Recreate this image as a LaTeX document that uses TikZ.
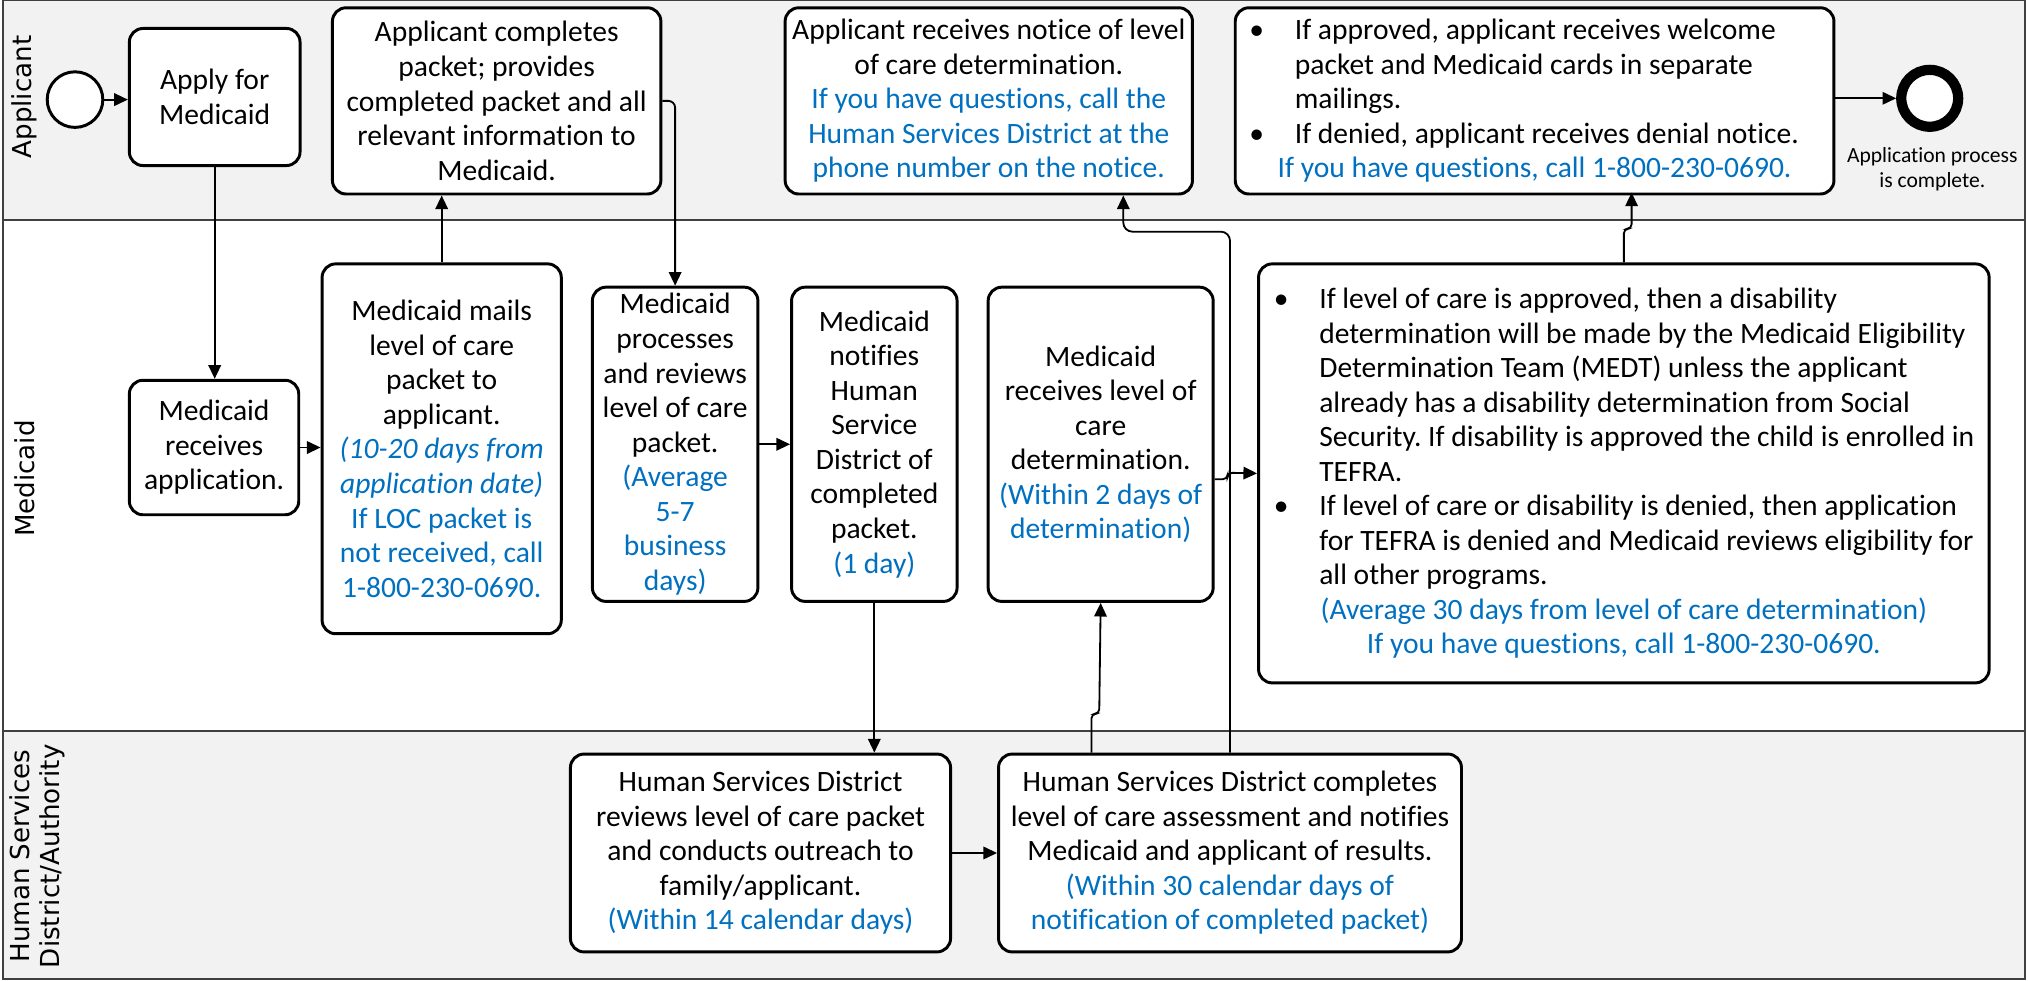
\documentclass[tikz,border=0pt]{standalone}
\usepackage{fontspec}
\setmainfont{Carlito}[Ligatures=NoCommon]
\newfontfamily\lanefont{DejaVu Sans}
\usepackage{xcolor}
\usetikzlibrary{arrows.meta,calc}
\definecolor{hsblue}{HTML}{0070C0}
\newcommand{\blu}[1]{\textcolor{hsblue}{#1}}
\newcommand{\bpt}[2][308pt]{\makebox[#1][l]{\makebox[20pt][l]{\textbullet}#2}}
\newcommand{\bpc}[2][308pt]{\makebox[#1][l]{\hspace*{20pt}#2}}
\frenchspacing

\begin{document}
\begin{tikzpicture}[x=0.02cm,y=-0.02cm,
 task/.style={draw,line width=1.3pt,rounded corners=6pt,fill=white,align=center,inner sep=1pt,font=\fontsize{13}{15.2}\selectfont},
 flow/.style={line width=0.8pt,-{Triangle[length=6pt,width=5.5pt]}},
 lane/.style={line width=0.9pt,draw=black!75},
 lanetext/.style={rotate=90,align=center,font=\lanefont\fontsize{11.5}{13}\selectfont}]
\useasboundingbox (0,0) rectangle (1568,758);
% lanes
\fill[black!5] (2,0) rectangle (1566,170);
\fill[black!5] (2,565) rectangle (1566,757);
\draw[lane] (2,0) rectangle (1566,757);
\draw[lane] (2,170) -- (1566,170);
\draw[lane] (2,565) -- (1566,565);
\node[lanetext] (lapp) at (19,75) {Applicant};
\node[lanetext] (lmed) at (19,370) {Medicaid};
\node[lanetext] (lhsd) at (29,662) {Human Services\\District/Authority};

% applicant
\node[draw,circle,line width=1.3pt,fill=white,minimum size=0.86cm] (start) at (58,77) {};
\node[task,minimum width=2.64cm,minimum height=2.12cm] (apply) at (166,75) {Apply for\\Medicaid};
\node[task,minimum width=5.08cm,minimum height=2.88cm] (acp) at (384,78)
 {Applicant completes\\packet; provides\\completed packet and all\\relevant information to\\Medicaid.};
\node[task,minimum width=6.3cm,minimum height=2.88cm] (notice) at (764.5,78)
 {Applicant receives notice of level\\of care determination.\\\blu{If you have questions, call the}\\\blu{Human Services District at the}\\\blu{phone number on the notice.}};
\node[task,minimum width=9.26cm,minimum height=2.88cm] (appb) at (1186.5,78)
 {\bpt[251pt]{If approved, applicant receives welcome}\\\bpc[251pt]{packet and Medicaid cards in separate}\\\bpc[251pt]{mailings.}\\\bpt[251pt]{If denied, applicant receives denial notice.}\\\blu{If you have questions, call 1-800-230-0690.}};
\node[draw,circle,line width=4.5pt,fill=white,minimum size=0.88cm] (finish) at (1492,76) {};
\node[align=center,font=\fontsize{9.5}{11}\selectfont] (donelbl) at (1494,131) {Application process\\is complete.};

% medicaid
\node[task,minimum width=2.62cm,minimum height=2.08cm] (recv) at (165.5,346) {Medicaid\\receives\\application.};
\node[task,minimum width=3.7cm,minimum height=5.72cm] (mails) at (341.5,347)
 {Medicaid mails\\level of care\\packet to\\applicant.\\\blu{\itshape(10-20 days from}\\\blu{\itshape application date)}\\\blu{If LOC packet is}\\\blu{not received, call}\\\blu{1-800-230-0690.}};
\node[task,minimum width=2.56cm,minimum height=4.86cm] (proc) at (522,343.5)
 {Medicaid\\processes\\and reviews\\level of care\\packet.\\\blu{(Average}\\\blu{5-7}\\\blu{business}\\\blu{days)}};
\node[task,minimum width=2.56cm,minimum height=4.86cm] (notif) at (676,343.5)
 {Medicaid\\notifies\\Human\\Service\\District of\\completed\\packet.\\\blu{(1 day)}};
\node[task,minimum width=3.48cm,minimum height=4.86cm] (medloc) at (851,343.5)
 {Medicaid\\receives level of\\care\\determination.\\\blu{(Within 2 days of}\\\blu{determination)}};
\node[task,minimum width=11.3cm,minimum height=6.48cm] (big) at (1255.5,366)
 {\bpt{If level of care is approved, then a disability}\\\bpc{determination will be made by the Medicaid Eligibility}\\\bpc{Determination Team (MEDT) unless the applicant}\\\bpc{already has a disability determination from Social}\\\bpc{Security. If disability is approved the child is enrolled in}\\\bpc{TEFRA.}\\\bpt{If level of care or disability is denied, then application}\\\bpc{for TEFRA is denied and Medicaid reviews eligibility for}\\\bpc{all other programs.}\\\blu{(Average 30 days from level of care determination)}\\\blu{If you have questions, call 1-800-230-0690.}};

% human services district
\node[task,minimum width=5.88cm,minimum height=3.06cm] (hsdr) at (588,659.5)
 {Human Services District\\reviews level of care packet\\and conducts outreach to\\family/applicant.\\\blu{(Within 14 calendar days)}};
\node[task,minimum width=7.16cm,minimum height=3.06cm] (hsdc) at (951,659.5)
 {Human Services District completes\\level of care assessment and notifies\\Medicaid and applicant of results.\\\blu{(Within 30 calendar days of}\\\blu{notification of completed packet)}};

% connectors
\draw[flow] (start) -- (start -| apply.west);
\draw[flow] (apply.south) -- (apply.south |- recv.north);
\draw[flow] (recv) -- (recv -| mails.west);
\draw[flow] (mails.north) -- (mails.north |- acp.south);
\draw[flow,rounded corners=3pt] (acp.east) -| (proc.north);
\draw[flow] (proc) -- (notif);
\draw[flow] (notif.south) -- (notif.south |- hsdr.north);
\draw[flow] (hsdr) -- (hsdc);
\draw[flow,rounded corners=2pt] ($(hsdc.north west)+(73,0)$) |- ++(6,-30) -- (medloc.south);
\draw[flow,rounded corners=4pt] (hsdc.north) |- ($(notice.south)+(104,28)$) -- ($(notice.south)+(104,0)$);
\draw[flow,rounded corners=2pt] ($(medloc.east)+(0,27)$) -| ++(10,-5) -- (big.west);
\draw[flow,rounded corners=2pt] (big.north) |- ++(6,-26) -- ++(0,-28);
\draw[flow] (finish -| appb.east) -- (finish.west);
\end{tikzpicture}
\end{document}
